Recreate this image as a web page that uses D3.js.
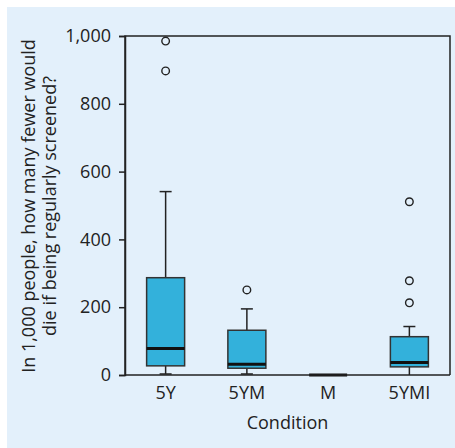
<!DOCTYPE html>
<html>
<head>
<meta charset="utf-8">
<script src="https://d3js.org/d3.v7.min.js"></script>
<style>
  body { margin: 0; background: #fff; }
  text { font-family: "Open Sans", "Noto Sans", sans-serif; fill: #222; }
</style>
</head>
<body>
<div id="chart"></div>
<script>
// data
var conditions = ["5Y", "5YM", "M", "5YMI"];
var lowWhisker = [3, 3, 0, 0];
var q1 = [27, 20, 0, 24];
var median = [78, 32, 0, 37];
var q3 = [287, 132, 0, 113];
var highWhisker = [541, 195, 0, 143];
var outliers = [[985, 897], [251], [], [511, 278, 213]];
var yTicks = [0, 200, 400, 600, 800, 1000];

var W = 455, H = 448;
var edge = { top: 36, right: 5, bottom: 73, left: 125 };
var width = W - edge.left - edge.right,
    height = H - edge.top - edge.bottom;
var fs = 18;

var root = d3.select("#chart").append("svg")
    .attr("width", W).attr("height", H);

root.append("rect")
    .attr("x", 7).attr("y", 7)
    .attr("width", W - 7).attr("height", H - 7)
    .attr("fill", "#e3f0fb");

var svg = root.append("g")
    .attr("transform", "translate(" + edge.left + "," + edge.top + ")");

var x = d3.scaleBand().domain(conditions).range([0, width]).padding(0);
var y = d3.scaleLinear().domain([0, 1000]).range([height, 0]);

var boxW = 38, capW = 12;

var data = conditions.map(function(c, i) {
  return { c: c, lo: lowWhisker[i], q1: q1[i], med: median[i], q3: q3[i], hi: highWhisker[i], out: outliers[i] };
});

var g = svg.selectAll(".box").data(data).enter().append("g")
    .attr("transform", function(d) { return "translate(" + (x(d.c) + x.bandwidth() / 2) + ",0)"; });

// whiskers
g.filter(function(d) { return d.hi > d.q3; }).append("line")
    .attr("y1", function(d) { return y(d.q3); }).attr("y2", function(d) { return y(d.hi); })
    .attr("stroke", "#222").attr("stroke-width", 1.5);
g.filter(function(d) { return d.hi > d.q3; }).append("line")
    .attr("x1", -capW / 2).attr("x2", capW / 2)
    .attr("y1", function(d) { return y(d.hi); }).attr("y2", function(d) { return y(d.hi); })
    .attr("stroke", "#222").attr("stroke-width", 1.5);
g.filter(function(d) { return d.q1 > 0; }).append("line")
    .attr("y1", function(d) { return y(d.q1); }).attr("y2", function(d) { return y(d.lo); })
    .attr("stroke", "#222").attr("stroke-width", 1.5);
g.filter(function(d) { return d.lo > 0; }).append("line")
    .attr("x1", -capW / 2).attr("x2", capW / 2)
    .attr("y1", function(d) { return y(d.lo); }).attr("y2", function(d) { return y(d.lo); })
    .attr("stroke", "#222").attr("stroke-width", 1.5);

// boxes
g.filter(function(d) { return d.q3 > d.q1; }).append("rect")
    .attr("x", -boxW / 2).attr("width", boxW)
    .attr("y", function(d) { return y(d.q3); })
    .attr("height", function(d) { return y(d.q1) - y(d.q3); })
    .attr("fill", "#33b1db").attr("stroke", "#333").attr("stroke-width", 1.5);

// medians
g.append("line")
    .attr("x1", -boxW / 2).attr("x2", boxW / 2)
    .attr("y1", function(d) { return y(d.med); }).attr("y2", function(d) { return y(d.med); })
    .attr("stroke", "#111").attr("stroke-width", 3);

// outliers
g.selectAll("circle").data(function(d) { return d.out; }).enter().append("circle")
    .attr("cy", function(v) { return y(v); })
    .attr("r", 3.8)
    .attr("fill", "none").attr("stroke", "#222").attr("stroke-width", 1.4);

// frame
svg.append("path")
    .attr("d", "M0," + height + "V0H" + width + "V" + height)
    .attr("fill", "none").attr("stroke", "#222").attr("stroke-width", 1.5);

// axes
var yAxis = svg.append("g")
    .call(d3.axisLeft(y).tickValues(yTicks).tickSize(6).tickPadding(8).tickFormat(d3.format(",")));
var xAxis = svg.append("g")
    .attr("transform", "translate(0," + height + ")")
    .call(d3.axisBottom(x).tickSize(0).tickPadding(11));

[yAxis, xAxis].forEach(function(a) {
  a.attr("font-size", fs).attr("font-family", '"Open Sans", "Noto Sans", sans-serif');
  a.select(".domain").attr("stroke", "#222").attr("stroke-width", 1.5);
  a.selectAll(".tick line").attr("stroke", "#222").attr("stroke-width", 1.5);
  a.selectAll("text").attr("fill", "#222");
});
xAxis.select(".domain").attr("d", "M0,0H" + width);

svg.append("text")
    .attr("x", width / 2).attr("y", height + 54)
    .attr("text-anchor", "middle").attr("font-size", fs)
    .text("Condition");

var ylab = root.append("text")
    .attr("transform", "translate(0,206) rotate(-90)")
    .attr("text-anchor", "middle").attr("font-size", fs);
ylab.append("tspan").attr("x", 0).attr("y", 35).text("In 1,000 people, how many fewer would");
ylab.append("tspan").attr("x", 0).attr("y", 56).text("die if being regularly screened?");
</script>
</body>
</html>
